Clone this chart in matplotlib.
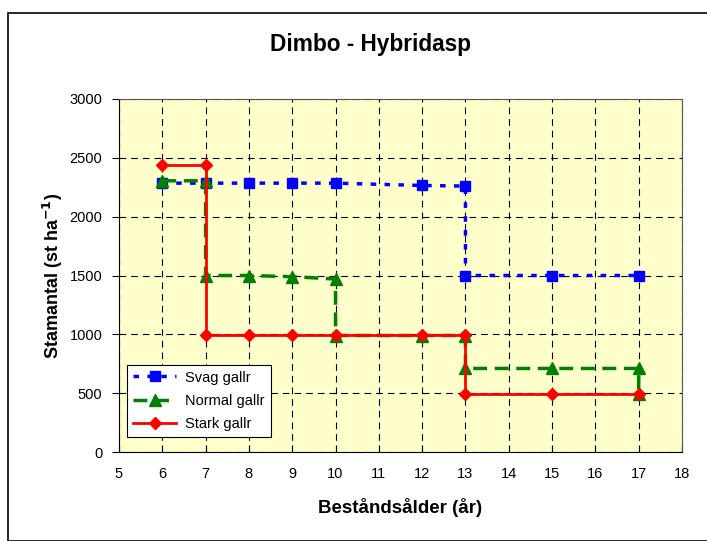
import matplotlib.pyplot as plt
from matplotlib.patches import Rectangle

plt.rcParams['font.family'] = ['Liberation Sans', 'DejaVu Sans']

# Svag gallr
svag_x = [6, 7, 8, 9, 10, 12, 13, 13, 15, 17]
svag_y = [2285, 2285, 2285, 2285, 2285, 2265, 2260, 1500, 1500, 1500]
# Normal gallr
normal_x = [6, 7, 7, 8, 9, 10, 10, 12, 13, 13, 15, 17, 17]
normal_y = [2305, 2305, 1500, 1500, 1490, 1470, 990, 990, 990, 710, 710, 710, 490]
# Stark gallr
stark_x = [6, 7, 7, 8, 9, 10, 12, 13, 13, 15, 17]
stark_y = [2440, 2440, 995, 995, 995, 995, 995, 995, 490, 490, 490]

fig = plt.figure(figsize=(7.07, 5.41), dpi=100)
ax = fig.add_axes([119 / 707, 89 / 541, 563 / 707, 353 / 541])
ax.set_facecolor('#FFFFCC')

ax.plot(svag_x, svag_y, color='#0000FF', linestyle=(0, (1.6, 2.4)), linewidth=2.5,
        marker='s', markersize=7, label='Svag gallr')
ax.plot(normal_x, normal_y, color='#008000', linestyle=(0, (4, 2.2)), linewidth=2.5,
        marker='^', markersize=8, label='Normal gallr')
ax.plot(stark_x, stark_y, color='#FF0000', linestyle='-', linewidth=2,
        marker='D', markersize=6, label='Stark gallr')

ax.set_xlim(5, 18)
ax.set_ylim(0, 3000)
ax.set_xticks(range(5, 19))
ax.set_yticks(range(0, 3001, 500))
ax.grid(True, color='black', linestyle=(0, (6, 4.5)), linewidth=0.8)
ax.tick_params(axis='x', direction='in', length=5, labelsize=10.5, pad=11)
ax.tick_params(axis='y', direction='out', length=5, labelsize=10.5, pad=7)
for side in ['top', 'right']:
    ax.spines[side].set_color('#555555')

ax.set_xlabel('Beståndsålder (år)', fontsize=13.5, fontweight='bold', labelpad=12)
ax.set_ylabel('Stamantal (st ha$^{\\mathbf{-1}}$)', fontsize=13, fontweight='bold', labelpad=3)
fig.text(0.5 * (268 + 473) / 707, 1 - 45 / 541, 'Dimbo - Hybridasp', ha='center', va='center',
         fontsize=16.3, fontweight='bold')

leg = ax.legend(loc='lower left', bbox_to_anchor=(0.001, 0.021), fontsize=10.5,
                fancybox=False, framealpha=1, edgecolor='black', handlelength=3.0,
                handletextpad=0.6, borderpad=0.4, labelspacing=0.65)
leg.get_frame().set_linewidth(0.8)

fig.patches.append(Rectangle((8 / 707, 0), 1, 1 - 13 / 541, transform=fig.transFigure,
                             fill=False, edgecolor='black', linewidth=1.2))

fig.savefig('out.png', dpi=100)
